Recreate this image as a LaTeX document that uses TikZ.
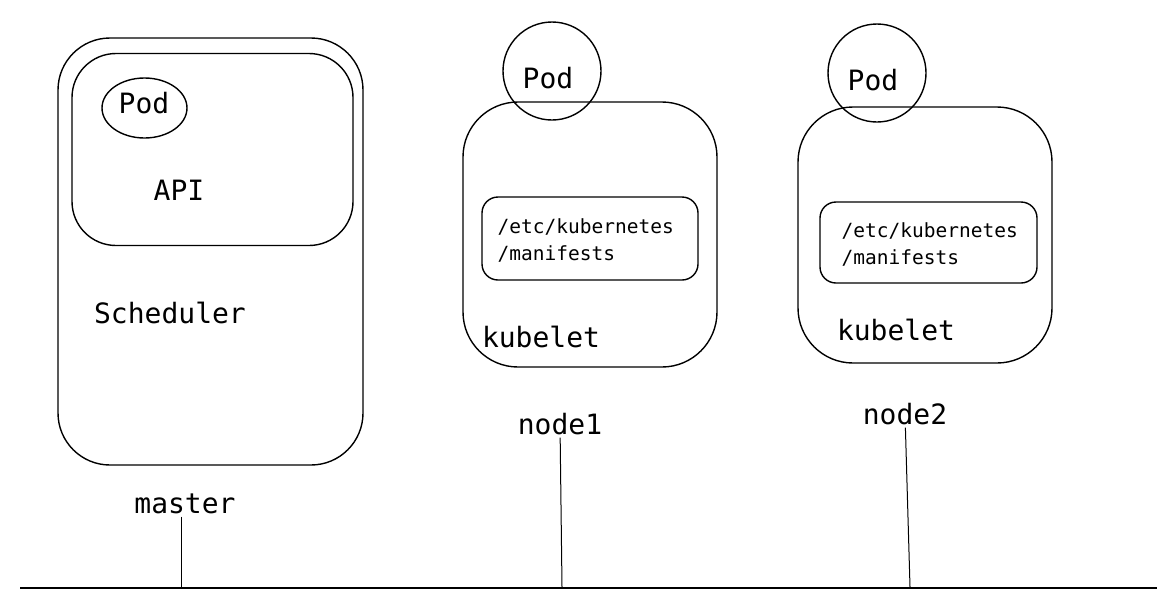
\documentclass[tikz,border=0pt]{standalone}
\usepackage{fontspec}
\setmonofont{DejaVu Sans Mono}
\usetikzlibrary{shapes.geometric}
\begin{document}
\begin{tikzpicture}[x=1pt,y=-1pt,
  line width=1.4pt,
  bigbox/.style={draw, rounded corners=#1, inner sep=0pt},
  lbl/.style={font=\ttfamily\fontsize{28}{32}\selectfont, inner sep=2pt},
  smalllbl/.style={font=\ttfamily\fontsize{19.5}{27}\selectfont, align=left, inner sep=0pt, anchor=west},
  podshape/.style={draw, inner sep=0pt}
]
\useasboundingbox (0,0) rectangle (1174,611);

% master
\node[bigbox=52pt, minimum width=305pt, minimum height=427pt] (mbox) at (210.5,251.5) {};
\node[bigbox=44pt, minimum width=281pt, minimum height=192pt] (api) at (212.5,149.5) {};
\node[podshape, ellipse, minimum width=85pt, minimum height=60pt] (mpod) at (144.5,108) {};
\node[lbl] (mpodt) at (144,103) {Pod};
\node[lbl] (apit) at (179,190) {API};
\node[lbl] (sched) at (170,313) {Scheduler};
\node[lbl] (master) at (185,504) {master};

% node1
\node[bigbox=55pt, minimum width=254pt, minimum height=265pt] (n1box) at (590,234.5) {};
\node[podshape, circle, minimum size=98pt] (n1pod) at (552,71) {};
\node[lbl] (n1podt) at (548,78) {Pod};
\node[bigbox=16pt, minimum width=216pt, minimum height=83pt] (n1man) at (590,238.5) {};
\node[smalllbl] (n1mant) at (497,240) {/etc/kubernetes\\/manifests};
\node[lbl] (n1kube) at (541,337) {kubelet};
\node[lbl] (node1) at (560,424) {node1};

% node2
\node[bigbox=55pt, minimum width=254pt, minimum height=256pt] (n2box) at (925,235) {};
\node[podshape, circle, minimum size=98pt] (n2pod) at (877,73) {};
\node[lbl] (n2podt) at (873,80) {Pod};
\node[bigbox=16pt, minimum width=217pt, minimum height=81pt] (n2man) at (928.5,242.5) {};
\node[smalllbl] (n2mant) at (841,244) {/etc/kubernetes\\/manifests};
\node[lbl] (n2kube) at (896,330) {kubelet};
\node[lbl] (node2) at (905,414) {node2};

% bus
\coordinate (busl) at (20,588);
\coordinate (busr) at (1157,588);
\coordinate (mb) at (181,588);
\coordinate (n1b) at (562,587);
\coordinate (n2b) at (910,587);
\draw (busl) -- (busr);
\draw[line width=1pt] (master.south -| mb) -- (mb);
\draw[line width=1pt] (node1) -- (n1b);
\draw[line width=1pt] (node2) -- (n2b);
\end{tikzpicture}
\end{document}
